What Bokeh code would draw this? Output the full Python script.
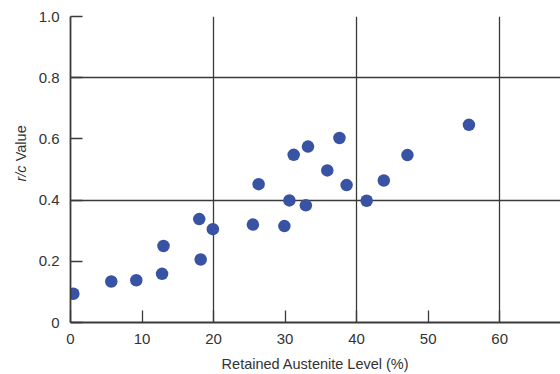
import math
from bokeh.plotting import figure
from bokeh.layouts import row
from bokeh.models import Range1d, FixedTicker, CustomJSTickFormatter, ColumnDataSource
from bokeh.core.properties import value
from bokeh.embed import file_html
from bokeh.resources import INLINE

# Data
austenite = [0.4, 5.7, 9.2, 12.8, 13.0, 18.0, 18.2, 19.9, 25.5, 26.3, 29.9,
             30.6, 31.2, 32.9, 33.2, 35.9, 37.6, 38.6, 41.4, 43.8, 47.1, 55.7]
rc_value = [0.094, 0.134, 0.138, 0.159, 0.250, 0.338, 0.206, 0.305, 0.320, 0.452, 0.315,
            0.399, 0.548, 0.383, 0.575, 0.497, 0.603, 0.449, 0.398, 0.464, 0.547, 0.646]
x_ticks = [0, 10, 20, 30, 40, 50, 60]
y_ticks = [0, 0.2, 0.4, 0.6, 0.8, 1.0]
x_grid = [20, 40, 60]
y_grid = [0.4, 0.8, 1.0]
x_title = "Retained Austenite Level (%)"
y_title_italic = "r/c"
y_title_rest = "Value"

FONT = "Liberation Sans"
TXT = "#333333"
LINE = "#3a3a3a"

W, H = 560, 374
LW = 30  # width of the strip holding the y-axis title

# --- strip with the y-axis title (italic "r/c" + "Value") ---
lab = figure(width=LW, height=H, x_range=Range1d(0, LW), y_range=Range1d(0, H),
             output_backend="svg", toolbar_location=None,
             min_border_left=0, min_border_right=0, min_border_top=0, min_border_bottom=0)
lab.axis.visible = False
lab.grid.visible = False
lab.outline_line_color = None
lab.text(x=[20], y=[H - 182], text=[y_title_italic], angle=math.pi / 2,
         text_align="right", text_baseline="middle", text_font=value(FONT),
         text_font_style="italic", text_font_size="14.5px", text_color=TXT)
lab.text(x=[20], y=[H - 177], text=[y_title_rest], angle=math.pi / 2,
         text_align="left", text_baseline="middle", text_font=value(FONT),
         text_font_style="normal", text_font_size="14.5px", text_color=TXT)

# --- main plot ---
p = figure(width=W - LW, height=H, x_range=Range1d(0, 68.5), y_range=Range1d(0, 1.0),
           output_backend="svg", toolbar_location=None,
           min_border_left=70 - LW, min_border_right=0, min_border_top=16, min_border_bottom=52)
p.outline_line_color = None
p.background_fill_color = "white"

src = ColumnDataSource(dict(x=austenite, y=rc_value))
p.scatter("x", "y", source=src, size=12.5, fill_color="#3953a4", line_color=None)

# grids
p.xgrid.ticker = FixedTicker(ticks=x_grid)
p.ygrid.ticker = FixedTicker(ticks=y_grid)
for g in (p.xgrid, p.ygrid):
    g.grid_line_color = LINE
    g.grid_line_width = 1.3

# axes
p.xaxis.ticker = FixedTicker(ticks=x_ticks)
p.yaxis.ticker = FixedTicker(ticks=y_ticks)
p.yaxis.formatter = CustomJSTickFormatter(code="return tick == 0 ? '0' : tick.toFixed(1);")
for ax in (p.xaxis, p.yaxis):
    ax.axis_line_color = LINE
    ax.axis_line_width = 1.8
    ax.major_tick_line_color = LINE
    ax.major_tick_line_width = 1.3
    ax.major_tick_in = 12
    ax.major_tick_out = 0
    ax.minor_tick_line_color = None
    ax.major_label_text_font = FONT
    ax.major_label_text_font_size = "15px"
    ax.major_label_text_color = TXT
    ax.major_label_standoff = 11

p.xaxis.axis_label = x_title
p.xaxis.axis_label_text_font = FONT
p.xaxis.axis_label_text_font_size = "14.5px"
p.xaxis.axis_label_text_font_style = "normal"
p.xaxis.axis_label_text_color = TXT
p.xaxis.axis_label_standoff = 9

layout = row(lab, p, spacing=0)
open("out.html", "w").write(file_html(layout, INLINE))
